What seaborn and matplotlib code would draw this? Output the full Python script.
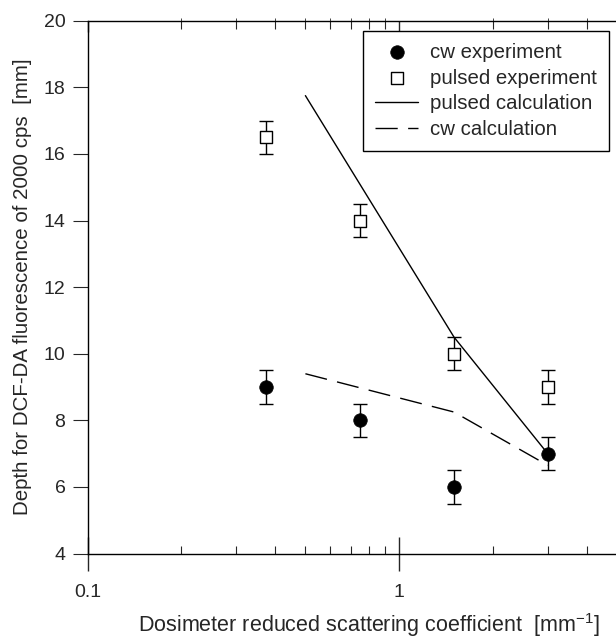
import numpy as np
import pandas as pd
import matplotlib
matplotlib.use("Agg")
import matplotlib.pyplot as plt
import seaborn as sns
from matplotlib.ticker import LogLocator, FixedLocator, NullFormatter, FixedFormatter

# ---- data ----
scatter_x = [0.375, 0.75, 1.5, 3.0]
cw_exp = [9.0, 8.0, 6.0, 7.0]
cw_err = [0.5, 0.5, 0.5, 0.5]
pulsed_exp = [16.5, 14.0, 10.0, 9.0]
pulsed_err = [0.5, 0.5, 0.5, 0.5]
pulsed_calc_x = [0.5, 1.5, 3.0]
pulsed_calc_y = [17.75, 10.5, 7.0]
cw_calc_x = [0.5, 1.5, 3.0]
cw_calc_y = [9.4, 8.25, 6.65]
x_ticks = [0.1, 1]
x_tick_labels = ["0.1", "1"]
y_ticks = [4, 6, 8, 10, 12, 14, 16, 18, 20]

sns.set_style("ticks")
plt.rcParams['font.family'] = ['Liberation Sans', 'DejaVu Sans']
plt.rcParams['mathtext.fontset'] = 'custom'
plt.rcParams['mathtext.rm'] = 'Liberation Sans'
plt.rcParams['mathtext.it'] = 'Liberation Sans'

W, H = 616, 641
fig = plt.figure(figsize=(W / 100, H / 100), dpi=100)
ax_l, ax_r, ax_t, ax_b = 87.7, 615.5, 20.7, 553.6
ax = fig.add_axes([ax_l / W, 1 - ax_b / H, (ax_r - ax_l) / W, (ax_b - ax_t) / H])

df_cw = pd.DataFrame({"x": scatter_x, "y": cw_exp, "err": cw_err})
df_pu = pd.DataFrame({"x": scatter_x, "y": pulsed_exp, "err": pulsed_err})
df_pc = pd.DataFrame({"x": pulsed_calc_x, "y": pulsed_calc_y})
df_cc = pd.DataFrame({"x": cw_calc_x, "y": cw_calc_y})

# error bars
ax.errorbar(df_cw.x, df_cw.y, yerr=df_cw.err, fmt="none", ecolor="black",
            elinewidth=1.0, capsize=5, capthick=1.0, zorder=2)
ax.errorbar(df_pu.x, df_pu.y, yerr=df_pu.err, fmt="none", ecolor="black",
            elinewidth=1.0, capsize=5, capthick=1.0, zorder=2)

# lines
sns.lineplot(data=df_pc, x="x", y="y", ax=ax, color="black", lw=1.0,
             label="pulsed calculation", zorder=3)
sns.lineplot(data=df_cc, x="x", y="y", ax=ax, color="black", lw=1.0,
             label="cw calculation", zorder=3)
ax.lines[-1].set_dashes([16, 7.5])

# points
sns.scatterplot(data=df_cw, x="x", y="y", ax=ax, marker="o", s=95,
                color="black", edgecolor="black", linewidth=0.5,
                label="cw experiment", zorder=4)
sns.scatterplot(data=df_pu, x="x", y="y", ax=ax, marker="s", s=70,
                facecolor="white", edgecolor="black", linewidth=1.0,
                label="pulsed experiment", zorder=4)

ax.set_xscale("log")
ax.set_xlim(0.1, 4.95)
ax.set_ylim(4, 20)
ax.xaxis.set_major_locator(FixedLocator(x_ticks))
ax.xaxis.set_major_formatter(FixedFormatter(x_tick_labels))
ax.xaxis.set_minor_locator(LogLocator(base=10, subs=np.arange(2, 10)))
ax.xaxis.set_minor_formatter(NullFormatter())
ax.set_yticks(y_ticks)

for s in ["left", "bottom", "top"]:
    ax.spines[s].set_linewidth(1.0)
    ax.spines[s].set_color("black")
ax.spines["right"].set_visible(False)

ax.tick_params(axis="x", which="major", direction="inout", length=24, width=1.0,
               labelsize=14, pad=10, top=False)
ax.tick_params(axis="x", which="minor", direction="in", length=6, width=0.8,
               top=True, bottom=True)
ax.tick_params(axis="y", which="major", direction="out", length=11, width=0.8,
               labelsize=14, pad=5)
ax.tick_params(axis="y", which="minor", left=False)

secx = ax.secondary_xaxis("top")
secx.set_xticks(x_ticks)
secx.set_xticklabels([])
secx.tick_params(direction="in", length=8, width=1.0)
secx.spines["top"].set_visible(False)

ax.set_xlabel("Dosimeter reduced scattering coefficient  [mm$^{-1}$]",
              fontsize=15.5)
ax.xaxis.set_label_coords((369 - ax_l) / (ax_r - ax_l), (ax_b - 611) / (ax_b - ax_t))
ax.set_ylabel("Depth for DCF-DA fluorescence of 2000 cps  [mm]", fontsize=14.8)
ax.yaxis.set_label_coords((32 - ax_l) / (ax_r - ax_l), 0.5)

handles, labels = ax.get_legend_handles_labels()
order = [labels.index(n) for n in ["cw experiment", "pulsed experiment",
                                    "pulsed calculation", "cw calculation"]]
leg = ax.legend([handles[i] for i in order], [labels[i] for i in order],
                loc="upper right", bbox_to_anchor=(609 / W, 1 - 31 / H),
                bbox_transform=fig.transFigure, fontsize=14.7,
                frameon=True, fancybox=False, edgecolor="black",
                framealpha=1, borderpad=0.58, labelspacing=0.33,
                handlelength=2.1, handletextpad=0.6, borderaxespad=0)
leg.get_frame().set_linewidth(1.0)

fig.savefig("out.png", dpi=100)
